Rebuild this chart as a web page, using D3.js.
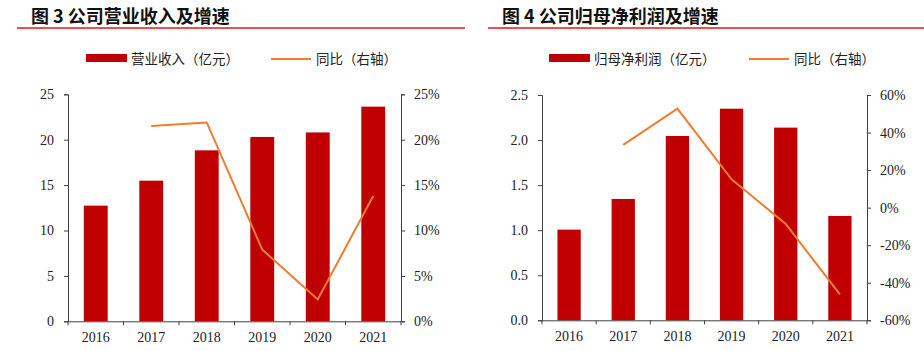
<!DOCTYPE html>
<html>
<head>
<meta charset="utf-8">
<script src="https://cdn.jsdelivr.net/npm/d3@7"></script>
<style>
  body { margin: 0; background: #fff; }
  svg { display: block; }
  .title { font-family: "Noto Sans CJK SC", sans-serif; font-weight: bold; font-size: 18px; fill: #111; }
  .legend { font-family: "Noto Sans CJK SC", sans-serif; font-size: 13.5px; fill: #222; }
  .tick text { font-family: "Liberation Serif", "Times New Roman", serif; font-size: 14px; fill: #222; }
</style>
</head>
<body>
<svg id="chart" width="924" height="351"></svg>
<script>
// data
var years = ["2016", "2017", "2018", "2019", "2020", "2021"];
var revenue = [12.74, 15.49, 18.83, 20.3, 20.8, 23.64];
var revenueYoy = [null, 21.5, 21.9, 7.9, 2.4, 13.8];
var profit = [1.006, 1.346, 2.045, 2.348, 2.138, 1.158];
var profitYoy = [null, 33.4, 52.7, 15.1, -8.7, -46.2];

var barColor = "#c00000";
var lineColor = "#ed7d31";
var axisColor = "#404040";

var svg = d3.select("#chart");

function drawChart(opt) {
    var g = svg.append("g");

    // title + red rule
    g.append("text").attr("class", "title")
        .attr("x", opt.titleX).attr("y", 23)
        .text(opt.title);
    g.append("line")
        .attr("x1", opt.ruleX1).attr("x2", opt.ruleX2)
        .attr("y1", 28).attr("y2", 28)
        .attr("stroke", "#e8141b").attr("stroke-width", 1.5);

    // legend
    var lg = g.append("g");
    lg.append("rect").attr("x", opt.legX).attr("y", 54).attr("width", 41).attr("height", 8).attr("fill", barColor);
    lg.append("text").attr("class", "legend").attr("x", opt.legX + 45).attr("y", 63.5).text(opt.barName);
    lg.append("line").attr("x1", opt.legX2).attr("x2", opt.legX2 + 40).attr("y1", 59).attr("y2", 59)
        .attr("stroke", lineColor).attr("stroke-width", 2);
    lg.append("text").attr("class", "legend").attr("x", opt.legX2 + 45).attr("y", 63.5).text("同比（右轴）");

    var x = d3.scaleBand().domain(years).range([opt.x0, opt.x1])
        .paddingInner(0.57).paddingOuter(0.285);
    var y = d3.scaleLinear().domain(opt.yDomain).range([opt.yBottom, opt.yTop]);
    var y2 = d3.scaleLinear().domain(opt.y2Domain).range([opt.yBottom, opt.yTop]);

    // bars
    g.append("g").selectAll("rect")
        .data(opt.bars)
        .enter().append("rect")
        .attr("x", function (d, i) { return x(years[i]); })
        .attr("width", x.bandwidth())
        .attr("y", function (d) { return y(d); })
        .attr("height", function (d) { return y(opt.yDomain[0]) - y(d); })
        .attr("fill", barColor);

    // left axis
    var left = g.append("g")
        .attr("transform", "translate(" + opt.x0 + ",0)")
        .call(d3.axisLeft(y).tickValues(opt.yTicks).tickSize(4).tickPadding(10).tickFormat(opt.yFmt));
    // right axis
    var right = g.append("g")
        .attr("transform", "translate(" + opt.x1 + ",0)")
        .call(d3.axisRight(y2).tickValues(opt.y2Ticks).tickSize(4).tickPadding(9)
            .tickFormat(function (d) { return d + "%"; }));
    // bottom axis: labels centered, ticks at category boundaries
    var bottom = g.append("g")
        .attr("transform", "translate(0," + opt.yBottom + ")")
        .call(d3.axisBottom(x).tickSize(0).tickPadding(11));
    var step = x.step();
    bottom.selectAll(".bound")
        .data(d3.range(years.length + 1))
        .enter().append("line")
        .attr("x1", function (i) { return opt.x0 + i * step; })
        .attr("x2", function (i) { return opt.x0 + i * step; })
        .attr("y1", 0).attr("y2", 4)
        .attr("stroke", axisColor);

    [left, right, bottom].forEach(function (a) {
        a.select(".domain").attr("stroke", axisColor);
        a.selectAll(".tick line").attr("stroke", axisColor);
    });
    bottom.select(".domain").attr("d", "M" + opt.x0 + ",0.5H" + opt.x1);

    // yoy line
    var line = d3.line()
        .defined(function (d) { return d !== null; })
        .x(function (d, i) { return x(years[i]) + x.bandwidth() / 2; })
        .y(function (d) { return y2(d); });
    g.append("path")
        .datum(opt.yoy)
        .attr("fill", "none")
        .attr("stroke", lineColor)
        .attr("stroke-width", 2)
        .attr("d", line);
}

drawChart({
    title: "图 3 公司营业收入及增速", titleX: 31, ruleX1: 17, ruleX2: 465,
    legX: 86, legX2: 271, barName: "营业收入（亿元）",
    x0: 68, x1: 401, yTop: 94.3, yBottom: 321.3,
    bars: revenue, yoy: revenueYoy,
    yDomain: [0, 25], yTicks: [0, 5, 10, 15, 20, 25], yFmt: d3.format("d"),
    y2Domain: [0, 25], y2Ticks: [0, 5, 10, 15, 20, 25]
});

drawChart({
    title: "图 4 公司归母净利润及增速", titleX: 502, ruleX1: 488, ruleX2: 924,
    legX: 549, legX2: 749, barName: "归母净利润（亿元）",
    x0: 542, x1: 867, yTop: 95, yBottom: 320.3,
    bars: profit, yoy: profitYoy,
    yDomain: [0, 2.5], yTicks: [0, 0.5, 1, 1.5, 2, 2.5], yFmt: d3.format(".1f"),
    y2Domain: [-60, 60], y2Ticks: [-60, -40, -20, 0, 20, 40, 60]
});
</script>
</body>
</html>
